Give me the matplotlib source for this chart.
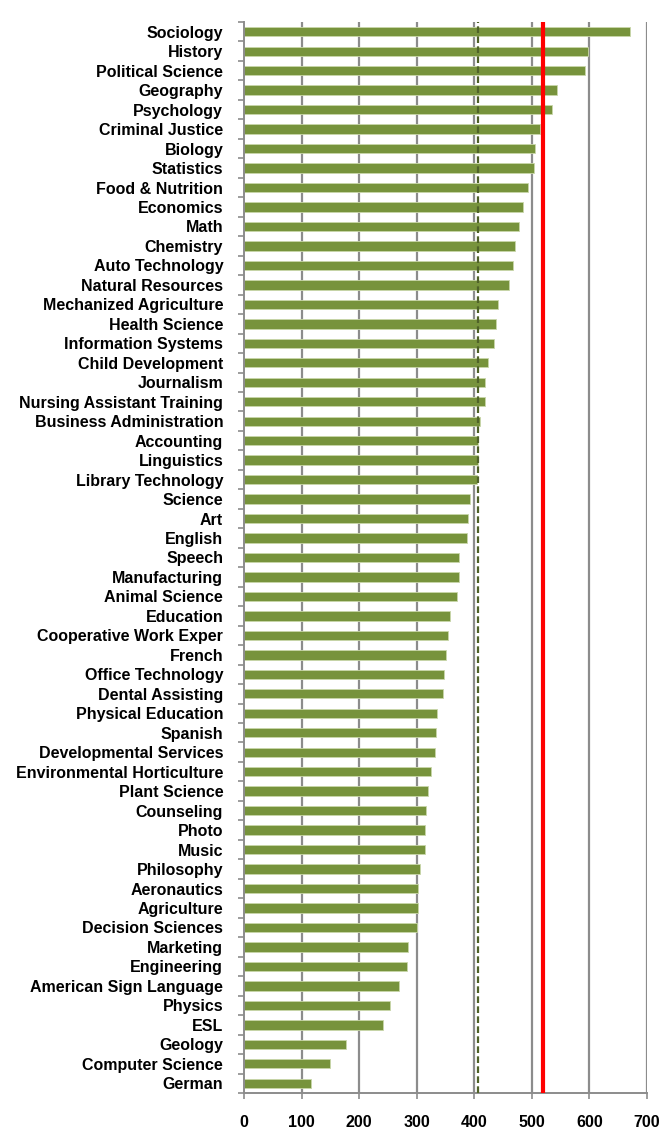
import matplotlib
matplotlib.use("Agg")
import matplotlib.pyplot as plt
import numpy as np

categories = [
    "Sociology", "History", "Political Science", "Geography", "Psychology",
    "Criminal Justice", "Biology", "Statistics", "Food & Nutrition", "Economics",
    "Math", "Chemistry", "Auto Technology", "Natural Resources",
    "Mechanized Agriculture", "Health Science", "Information Systems",
    "Child Development", "Journalism", "Nursing Assistant Training",
    "Business Administration", "Accounting", "Linguistics", "Library Technology",
    "Science", "Art", "English", "Speech", "Manufacturing", "Animal Science",
    "Education", "Cooperative Work Exper", "French", "Office Technology",
    "Dental Assisting", "Physical Education", "Spanish", "Developmental Services",
    "Environmental Horticulture", "Plant Science", "Counseling", "Photo", "Music",
    "Philosophy", "Aeronautics", "Agriculture", "Decision Sciences", "Marketing",
    "Engineering", "American Sign Language", "Physics", "ESL", "Geology",
    "Computer Science", "German",
]
values = [
    671, 597, 593, 543, 535,
    515, 506, 503, 493, 484,
    477, 471, 467, 461,
    441, 438, 434,
    423, 418, 418,
    410, 407, 406, 404,
    392, 389, 388, 374, 373, 370,
    358, 354, 351, 348,
    346, 335, 333, 332,
    324, 320, 316, 315, 314,
    306, 303, 302, 300, 285,
    283, 269, 254, 241, 177,
    150, 117,
]
red_line_value = 520
dashed_line_value = 406
x_ticks = [0, 100, 200, 300, 400, 500, 600, 700]

plt.rcParams['font.family'] = ['Liberation Sans', 'DejaVu Sans']

fig = plt.figure(figsize=(6.70, 11.32), dpi=100)
ax = fig.add_axes([244/670, 1 - 1093/1132, (647-244)/670, (1093-22)/1132])

y = np.arange(len(categories))
grid_color = "#8C8C8C"
for xt in x_ticks[1:]:
    ax.axvline(xt, color=grid_color, lw=1.6, zorder=0)

ax.barh(y, values, height=0.48, color="#77933C", edgecolor="#C9D7A9", linewidth=0.6, zorder=2)
ax.axvline(dashed_line_value, color="#4F6228", lw=1.6, ls=(0, (3, 1.5)), zorder=3)
ax.axvline(red_line_value, color="#FF0000", lw=3, zorder=4)

ax.set_xlim(0, 700)
ax.set_ylim(len(categories) - 0.5, -0.5)
ax.set_xticks(x_ticks)
ax.set_xticklabels([str(t) for t in x_ticks], fontsize=11.5, fontweight='bold')
ax.set_yticks(y)
ax.set_yticklabels(categories, fontsize=11.5, fontweight='bold')
ax.set_yticks(np.arange(-0.5, len(categories), 1), minor=True)
ax.tick_params(axis='y', which='major', length=0, pad=15)
ax.tick_params(axis='y', which='minor', length=4, width=1.2, color=grid_color, direction='out')
ax.tick_params(axis='x', which='major', length=4, width=1.2, color=grid_color, direction='out', pad=11.5)

for side in ['top', 'right']:
    ax.spines[side].set_visible(False)
for side in ['left', 'bottom']:
    ax.spines[side].set_color(grid_color)
    ax.spines[side].set_linewidth(1.4)

fig.savefig("out.png", dpi=100)
